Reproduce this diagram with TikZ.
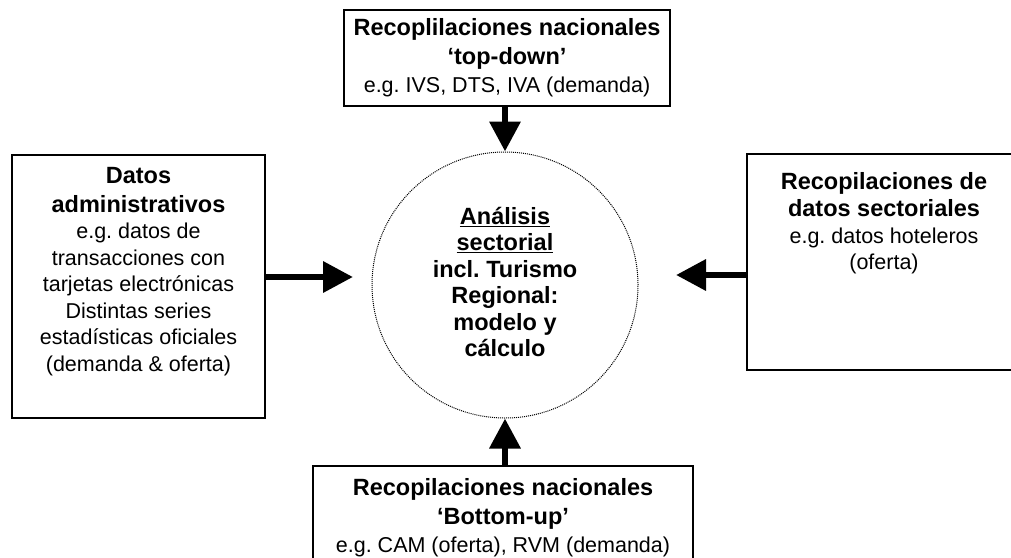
\documentclass[tikz,border=0pt]{standalone}
\usepackage{fontspec}
\setmainfont{Liberation Sans}
\usetikzlibrary{arrows.meta}
\usetikzlibrary{positioning}

\newcommand\hdr[1]{{\fontsize{23.5}{26.5}\selectfont\bfseries #1}}
\frenchspacing

\begin{document}
\begin{tikzpicture}[x=1pt,y=-1pt,
    every node/.style={font=\fontsize{21.5}{26.5}\selectfont, align=center, inner sep=0pt},
    box/.style={draw, line width=1.5pt},
    hub/.style={draw, circle, densely dotted, line width=1pt, minimum size=266pt},
    feed/.style={line width=6.5pt, -{Triangle[length=30pt,width=30pt]}}]
  \useasboundingbox (0,0) rectangle (1011,557);
  \clip (0,0) rectangle (1011,557);
  % centro
  \node[hub] (hub) at (505,285) {};
  \node (hubtext) at ([yshift=3pt]hub.center) {\hdr{\underline{Análisis}}\\ \hdr{\underline{sectorial}}\\
    \hdr{incl. Turismo}\\ \hdr{Regional:}\\ \hdr{modelo y}\\ \hdr{cálculo}};
  % fuentes
  \node[box, minimum width=326pt, minimum height=96pt] (topdown) at (507,58)
    {\hdr{Recoplilaciones nacionales}\\[2pt] \hdr{‘top-down’}\\[2pt] e.g. IVS, DTS, IVA (demanda)};
  \node[box, minimum width=380pt, minimum height=104pt] (bottomup) at (503,518)
    {\hdr{Recopilaciones nacionales}\\[2pt] \hdr{‘Bottom-up’}\\[2pt] e.g. CAM (oferta), RVM (demanda)};
  \node[box, minimum width=253pt, minimum height=263pt] (admin) at (138.5,286.5) {};
  \node[below=13pt of admin.north] (admintext) {\hdr{Datos}\\[2pt] \hdr{administrativos}\\
    e.g. datos de\\ transacciones con\\ tarjetas electrónicas\\ Distintas series\\
    estadísticas oficiales\\ (demanda \& oferta)};
  \node[box, minimum width=274pt, minimum height=216pt] (sector) at (884,262) {};
  \node[below=19pt of sector.north] (sectortext) {\hdr{Recopilaciones de}\\[1pt]
    \hdr{datos sectoriales}\\ e.g. datos hoteleros\\ (oferta)};
  % flechas
  \coordinate (admintip) at (353,277);
  \coordinate (sectortip) at (676,275);
  \draw[feed] (topdown.south -| hub.north) -- (hub.north);
  \draw[feed] (bottomup.north -| hub.south) -- (hub.south);
  \draw[feed] (admin.east |- admintip) -- (admintip);
  \draw[feed] (sector.west |- sectortip) -- (sectortip);
\end{tikzpicture}
\end{document}
